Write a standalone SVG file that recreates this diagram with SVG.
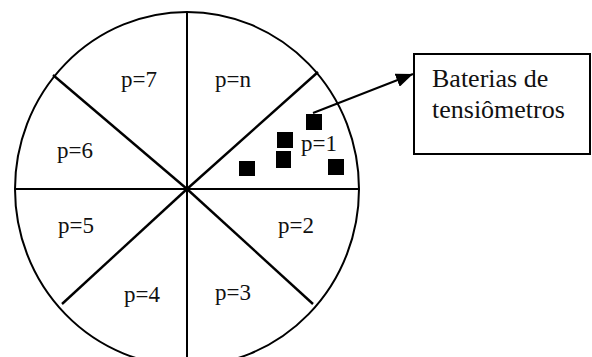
<svg xmlns="http://www.w3.org/2000/svg" width="592" height="357" viewBox="0 0 592 357">
<style>
.ln{stroke:#000;stroke-width:2;fill:none}
.dg{stroke:#000;stroke-width:2.4;fill:none}
.lbl{font-family:"Liberation Serif","Times New Roman",serif;font-size:23px;fill:#111}
.box{font-family:"Liberation Serif","Times New Roman",serif;font-size:26px;fill:#111}
.sq{fill:#000}
</style>
<defs>
<marker id="ah" markerWidth="18" markerHeight="14" refX="17" refY="7" orient="auto" markerUnits="userSpaceOnUse">
<path d="M0,0 L17,7 L0,14 Z" fill="#000"/>
</marker>
</defs>
<rect width="592" height="357" fill="#fff"/>
<g id="wheel">
<ellipse class="ln" cx="187" cy="189" rx="172" ry="177"/>
<line class="ln" x1="187" y1="12" x2="187" y2="360"/>
<line class="ln" x1="15" y1="189" x2="359" y2="189"/>
<line class="dg" x1="187" y1="189" x2="53" y2="75"/>
<line class="dg" x1="187" y1="189" x2="318" y2="72"/>
<line class="dg" x1="187" y1="189" x2="62" y2="304"/>
<line class="dg" x1="187" y1="189" x2="313" y2="304"/>
</g>
<g id="labels">
<text class="lbl" x="121" y="87">p=7</text>
<text class="lbl" x="215" y="87">p=n</text>
<text class="lbl" x="57" y="158">p=6</text>
<text class="lbl" x="301" y="151">p=1</text>
<text class="lbl" x="58" y="233">p=5</text>
<text class="lbl" x="278" y="233">p=2</text>
<text class="lbl" x="124" y="302">p=4</text>
<text class="lbl" x="215" y="300">p=3</text>
</g>
<g id="tensiometers">
<rect class="sq" x="306" y="114" width="16" height="16"/>
<rect class="sq" x="277" y="132" width="16" height="16"/>
<rect class="sq" x="276" y="151" width="15" height="17"/>
<rect class="sq" x="239" y="161" width="16" height="15"/>
<rect class="sq" x="328" y="159" width="16" height="16"/>
</g>
<g id="box">
<rect x="414" y="54" width="176" height="100" fill="#fff" stroke="#000" stroke-width="2"/>
<text class="box" x="432" y="87">Baterias de</text>
<text class="box" x="432" y="118">tensiômetros</text>
</g>
<g id="connectors">
<line class="ln" x1="313" y1="113" x2="413" y2="74" marker-end="url(#ah)"/>
</g>
</svg>
